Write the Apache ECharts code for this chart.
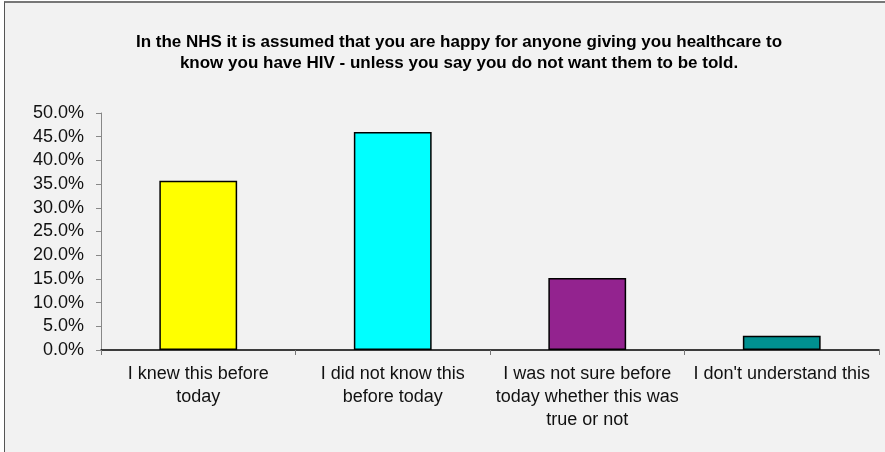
<!DOCTYPE html>
<html>
<head>
<meta charset="utf-8">
<script src="https://cdn.jsdelivr.net/npm/echarts@6/dist/echarts.min.js"></script>
<style>
  html, body { margin: 0; padding: 0; background: #fff; }
  #chart {
    position: absolute; left: 4px; top: 1px;
    width: 885px; height: 455px;
    box-sizing: border-box;
    border-top: 2px solid #777; border-left: 1px solid #555;
    background: #f2f2f2;
  }
</style>
</head>
<body>
<div id="chart"></div>
<script>
// categories and answers (share of respondents, %)
const categories = [
  'I knew this before\ntoday',
  'I did not know this\nbefore today',
  'I was not sure before\ntoday whether this was\ntrue or not',
  "I don't understand this"
]
const values = [35.7, 46.0, 15.2, 3.0]
const barColors = ['#ffff00', '#00ffff', '#93238f', '#009090']
const yTicks = { min: 0, max: 50, interval: 5 }

const chart = echarts.init(document.getElementById('chart'))

const option = {
  backgroundColor: 'transparent',
  animation: false,
  textStyle: { fontFamily: 'Liberation Sans, Arial, sans-serif' },
  title: {
    text: 'In the NHS it is assumed that you are happy for anyone giving you healthcare to\nknow you have HIV - unless you say you do not want them to be told.',
    left: 449,
    textAlign: 'center',
    top: 24,
    textStyle: { fontSize: 17, fontWeight: 'bold', color: '#000', lineHeight: 21, align: 'center' }
  },
  grid: { left: 96, right: 10, top: 110, bottom: 106 },
  xAxis: {
    type: 'category',
    data: categories,
    axisLine: { lineStyle: { color: '#000', width: 1.5 } },
    axisTick: { show: true, length: 5, lineStyle: { color: '#777' } },
    axisLabel: { color: '#111', fontSize: 18, lineHeight: 23, margin: 13, interval: 0 }
  },
  yAxis: {
    type: 'value',
    min: yTicks.min,
    max: yTicks.max,
    interval: yTicks.interval,
    axisLine: { show: true, lineStyle: { color: '#888' } },
    axisTick: { show: true, length: 5, lineStyle: { color: '#888' } },
    splitLine: { show: false },
    axisLabel: {
      color: '#111', fontSize: 18, margin: 17,
      formatter: v => v.toFixed(1) + '%'
    }
  },
  series: [
    {
      type: 'bar',
      barWidth: '40%',
      data: values.map((v, i) => ({
        value: v,
        itemStyle: { color: barColors[i], borderColor: '#000', borderWidth: 1.5 }
      }))
    }
  ]
}

chart.setOption(option)
</script>
</body>
</html>
